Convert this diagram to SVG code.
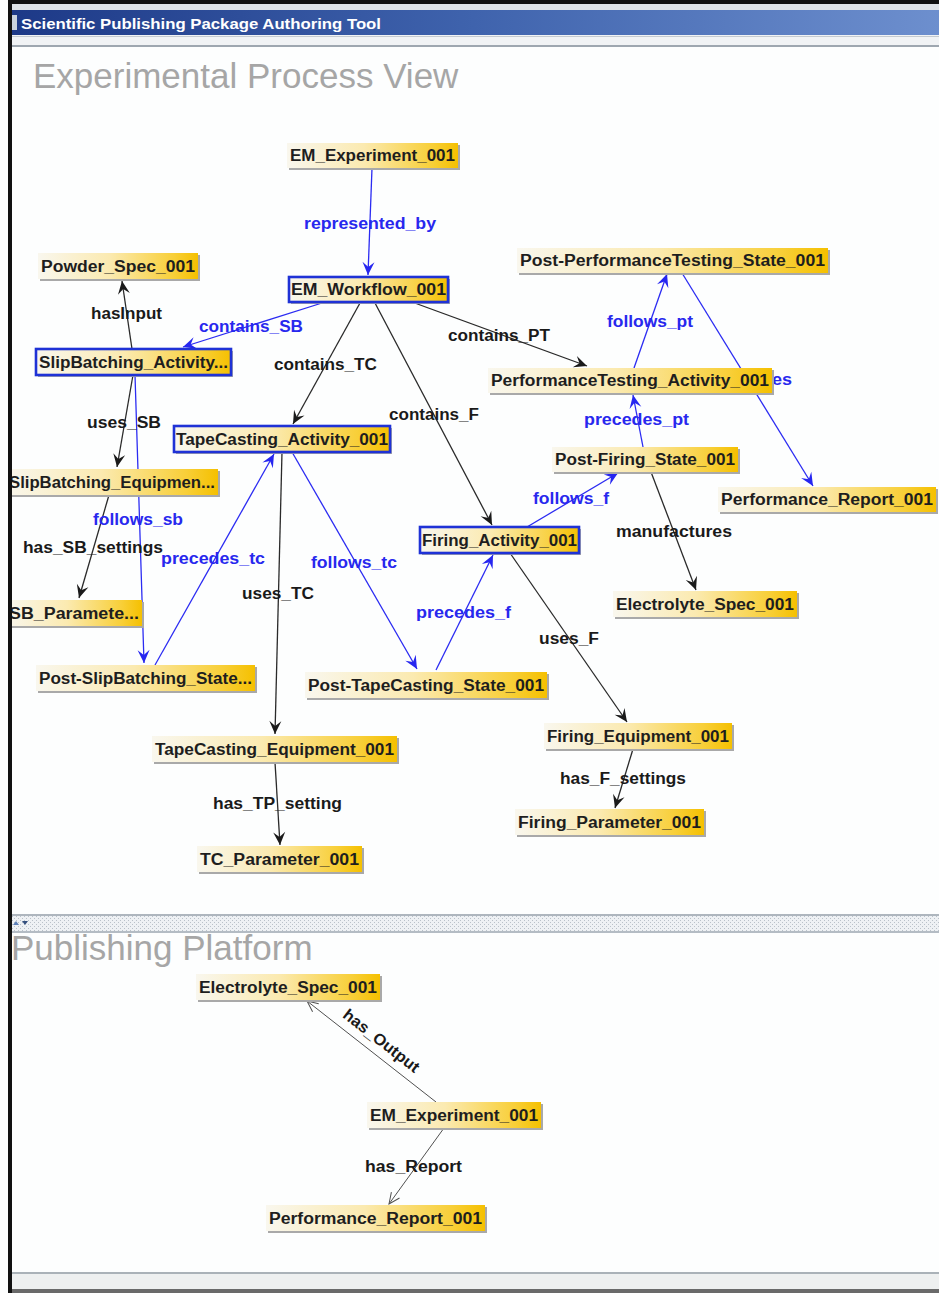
<svg xmlns="http://www.w3.org/2000/svg" width="939" height="1293" viewBox="0 0 939 1293">
<style>
  .nl { font-family: "Liberation Sans", Arial, sans-serif; font-weight: bold; font-size: 16px; fill: #1e1e1e; text-anchor: middle; }
  .el { font-family: "Liberation Sans", Arial, sans-serif; font-weight: bold; font-size: 16px; }
  .ek { fill: #1a1a1a; }
  .eu { fill: #2828ee; }
  .box { fill: url(#gold); }
  .sh { fill: #a9a9a9; }
  .sel { stroke: #1f32d6; stroke-width: 2.6; }
  .lk { stroke: #2a2a2a; stroke-width: 1.3; fill: none; marker-end: url(#ak); }
  .lu { stroke: #2b2bf2; stroke-width: 1.3; fill: none; marker-end: url(#au); }
  .lt { stroke: #505050; stroke-width: 1; fill: none; marker-end: url(#ao); }
  .pane { font-family: "Liberation Sans", Arial, sans-serif; font-size: 35px; fill: #a6a6a6; }
</style>
<defs>
  <linearGradient id="gold" x1="0" y1="0" x2="1" y2="0">
    <stop offset="0" stop-color="#f9f7ee"/>
    <stop offset="0.45" stop-color="#fbeab0"/>
    <stop offset="0.85" stop-color="#f8cf38"/>
    <stop offset="1" stop-color="#f5c000"/>
  </linearGradient>
  <linearGradient id="bar" x1="0" y1="0" x2="1" y2="0">
    <stop offset="0" stop-color="#1d3987"/>
    <stop offset="0.5" stop-color="#3f63ad"/>
    <stop offset="1" stop-color="#6d8fce"/>
  </linearGradient>
  <pattern id="dots" width="4" height="4" patternUnits="userSpaceOnUse">
    <rect width="4" height="4" fill="#eef1f4"/>
    <rect x="0" y="0" width="1" height="1" fill="#b9c1c9"/>
    <rect x="2" y="2" width="1" height="1" fill="#b9c1c9"/>
  </pattern>
  <marker id="ak" viewBox="-14 -7 16 14" refX="0" refY="0" markerWidth="16" markerHeight="14" markerUnits="userSpaceOnUse" orient="auto">
    <path d="M0,0 L-13,-6 L-8,0 L-13,6 Z" fill="#1a1a1a"/>
  </marker>
  <marker id="au" viewBox="-14 -7 16 14" refX="0" refY="0" markerWidth="16" markerHeight="14" markerUnits="userSpaceOnUse" orient="auto">
    <path d="M0,0 L-13,-6 L-8,0 L-13,6 Z" fill="#2626f0"/>
  </marker>
  <marker id="ao" viewBox="-14 -7 16 14" refX="0" refY="0" markerWidth="16" markerHeight="14" markerUnits="userSpaceOnUse" orient="auto">
    <path d="M-11,-5 L0,0 L-11,5" fill="none" stroke="#505050" stroke-width="1"/>
  </marker>
</defs>

<!-- window background -->
<rect x="0" y="0" width="939" height="1293" fill="#fdfefe"/>

<!-- connectors -->
<g id="connectors">
  <line class="lu" x1="372" y1="168" x2="368" y2="275"/>
  <line class="lu" x1="322" y1="303" x2="183" y2="347"/>
  <line class="lk" x1="360" y1="303" x2="293" y2="424"/>
  <line class="lk" x1="375" y1="303" x2="492" y2="525"/>
  <line class="lk" x1="412" y1="302" x2="587" y2="366"/>
  <line class="lk" x1="132" y1="349" x2="122" y2="281"/>
  <line class="lk" x1="133" y1="375" x2="117" y2="467"/>
  <line class="lu" x1="135" y1="375" x2="144" y2="663"/>
  <line class="lk" x1="109" y1="495" x2="79" y2="598"/>
  <line class="lu" x1="155" y1="665" x2="274" y2="454"/>
  <line class="lu" x1="292" y1="452" x2="417" y2="669"/>
  <line class="lk" x1="282" y1="452" x2="275" y2="734"/>
  <line class="lk" x1="275" y1="762" x2="280" y2="845"/>
  <line class="lu" x1="436" y1="670" x2="493" y2="555"/>
  <line class="lu" x1="527" y1="527" x2="618" y2="473"/>
  <line class="lk" x1="510" y1="553" x2="627" y2="722"/>
  <line class="lk" x1="633" y1="749" x2="615" y2="808"/>
  <line class="lu" x1="643" y1="447" x2="633" y2="395"/>
  <line class="lu" x1="634" y1="368" x2="667" y2="274"/>
  <line class="lu" x1="682" y1="273" x2="813" y2="486"/>
  <line class="lk" x1="651" y1="472" x2="696" y2="590"/>
  <line class="lt" x1="436" y1="1102" x2="307" y2="1001"/>
  <line class="lt" x1="444" y1="1128" x2="389" y2="1204"/>

  <!-- edge labels -->
  <text class="el eu" x="304" y="229" textLength="132" lengthAdjust="spacingAndGlyphs">represented_by</text>
  <text class="el ek" x="91" y="319" textLength="71" lengthAdjust="spacingAndGlyphs">hasInput</text>
  <text class="el eu" x="199" y="332" textLength="104" lengthAdjust="spacingAndGlyphs">contains_SB</text>
  <text class="el ek" x="274" y="370" textLength="103" lengthAdjust="spacingAndGlyphs">contains_TC</text>
  <text class="el ek" x="448" y="341" textLength="102" lengthAdjust="spacingAndGlyphs">contains_PT</text>
  <text class="el ek" x="389" y="420" textLength="90" lengthAdjust="spacingAndGlyphs">contains_F</text>
  <text class="el ek" x="87" y="428" textLength="74" lengthAdjust="spacingAndGlyphs">uses_SB</text>
  <text class="el eu" x="607" y="327" textLength="86" lengthAdjust="spacingAndGlyphs">follows_pt</text>
  <text class="el eu" x="772" y="385" textLength="20" lengthAdjust="spacingAndGlyphs">es</text>
  <text class="el eu" x="584" y="425" textLength="105" lengthAdjust="spacingAndGlyphs">precedes_pt</text>
  <text class="el eu" x="533" y="504" textLength="76" lengthAdjust="spacingAndGlyphs">follows_f</text>
  <text class="el ek" x="616" y="537" textLength="116" lengthAdjust="spacingAndGlyphs">manufactures</text>
  <text class="el eu" x="93" y="525" textLength="90" lengthAdjust="spacingAndGlyphs">follows_sb</text>
  <text class="el ek" x="23" y="553" textLength="140" lengthAdjust="spacingAndGlyphs">has_SB_settings</text>
  <text class="el eu" x="161" y="564" textLength="104" lengthAdjust="spacingAndGlyphs">precedes_tc</text>
  <text class="el eu" x="311" y="568" textLength="86" lengthAdjust="spacingAndGlyphs">follows_tc</text>
  <text class="el ek" x="242" y="599" textLength="72" lengthAdjust="spacingAndGlyphs">uses_TC</text>
  <text class="el eu" x="416" y="618" textLength="95" lengthAdjust="spacingAndGlyphs">precedes_f</text>
  <text class="el ek" x="539" y="644" textLength="60" lengthAdjust="spacingAndGlyphs">uses_F</text>
  <text class="el ek" x="560" y="784" textLength="126" lengthAdjust="spacingAndGlyphs">has_F_settings</text>
  <text class="el ek" x="213" y="809" textLength="129" lengthAdjust="spacingAndGlyphs">has_TP_setting</text>
  <text class="el ek" x="365" y="1172" textLength="97" lengthAdjust="spacingAndGlyphs">has_Report</text>
  <text class="el ek" x="0" y="0" text-anchor="middle" textLength="92" lengthAdjust="spacingAndGlyphs" transform="translate(378,1045) rotate(38)">has_Output</text>
</g>

<!-- nodes: upper pane -->
<g id="n-em-experiment"><rect class="sh" x="289" y="145" width="171" height="25"/><rect class="box" x="287" y="143" width="171" height="25"/><text class="nl" x="372.5" y="161" textLength="165" lengthAdjust="spacingAndGlyphs">EM_Experiment_001</text></g>
<g id="n-em-workflow"><rect class="sh" x="291" y="279" width="159" height="25"/><rect class="box sel" x="289" y="277" width="159" height="25"/><text class="nl" x="368.5" y="295" textLength="155" lengthAdjust="spacingAndGlyphs">EM_Workflow_001</text></g>
<g id="n-powder-spec"><rect class="sh" x="40" y="255" width="160" height="26"/><rect class="box" x="38" y="253" width="160" height="26"/><text class="nl" x="118" y="272" textLength="154" lengthAdjust="spacingAndGlyphs">Powder_Spec_001</text></g>
<g id="n-slipbatching-activity"><rect class="sh" x="38" y="351" width="195" height="26"/><rect class="box sel" x="36" y="349" width="195" height="26"/><text class="nl" x="133.5" y="368" textLength="189" lengthAdjust="spacingAndGlyphs">SlipBatching_Activity...</text></g>
<g id="n-tapecasting-activity"><rect class="sh" x="176" y="428" width="216" height="26"/><rect class="box sel" x="174" y="426" width="216" height="26"/><text class="nl" x="282" y="445" textLength="212" lengthAdjust="spacingAndGlyphs">TapeCasting_Activity_001</text></g>
<g id="n-post-pt-state"><rect class="sh" x="519" y="250" width="311" height="25"/><rect class="box" x="517" y="248" width="311" height="25"/><text class="nl" x="672.5" y="266" textLength="305" lengthAdjust="spacingAndGlyphs">Post-PerformanceTesting_State_001</text></g>
<g id="n-pt-activity"><rect class="sh" x="490" y="370" width="284" height="25"/><rect class="box" x="488" y="368" width="284" height="25"/><text class="nl" x="630" y="386" textLength="278" lengthAdjust="spacingAndGlyphs">PerformanceTesting_Activity_001</text></g>
<g id="n-post-firing-state"><rect class="sh" x="554" y="449" width="186" height="25"/><rect class="box" x="552" y="447" width="186" height="25"/><text class="nl" x="645" y="465" textLength="180" lengthAdjust="spacingAndGlyphs">Post-Firing_State_001</text></g>
<g id="n-performance-report"><rect class="sh" x="720" y="489" width="218" height="25"/><rect class="box" x="718" y="487" width="218" height="25"/><text class="nl" x="827" y="505" textLength="212" lengthAdjust="spacingAndGlyphs">Performance_Report_001</text></g>
<g id="n-slipbatching-equipment"><rect class="sh" x="8" y="471" width="212" height="26"/><rect class="box" x="6" y="469" width="212" height="26"/><text class="nl" x="112" y="488" textLength="206" lengthAdjust="spacingAndGlyphs">SlipBatching_Equipmen...</text></g>
<g id="n-sb-parameter"><rect class="sh" x="8" y="602" width="136" height="26"/><rect class="box" x="6" y="600" width="136" height="26"/><text class="nl" x="74" y="619" textLength="130" lengthAdjust="spacingAndGlyphs">SB_Paramete...</text></g>
<g id="n-post-sb-state"><rect class="sh" x="38" y="667" width="219" height="26"/><rect class="box" x="36" y="665" width="219" height="26"/><text class="nl" x="145.5" y="684" textLength="213" lengthAdjust="spacingAndGlyphs">Post-SlipBatching_State...</text></g>
<g id="n-post-tc-state"><rect class="sh" x="307" y="674" width="242" height="26"/><rect class="box" x="305" y="672" width="242" height="26"/><text class="nl" x="426" y="691" textLength="236" lengthAdjust="spacingAndGlyphs">Post-TapeCasting_State_001</text></g>
<g id="n-firing-activity"><rect class="sh" x="422" y="529" width="159" height="26"/><rect class="box sel" x="420" y="527" width="159" height="26"/><text class="nl" x="499.5" y="546" textLength="155" lengthAdjust="spacingAndGlyphs">Firing_Activity_001</text></g>
<g id="n-electrolyte-spec"><rect class="sh" x="615" y="593" width="184" height="26"/><rect class="box" x="613" y="591" width="184" height="26"/><text class="nl" x="705" y="610" textLength="178" lengthAdjust="spacingAndGlyphs">Electrolyte_Spec_001</text></g>
<g id="n-firing-equipment"><rect class="sh" x="546" y="725" width="188" height="26"/><rect class="box" x="544" y="723" width="188" height="26"/><text class="nl" x="638" y="742" textLength="182" lengthAdjust="spacingAndGlyphs">Firing_Equipment_001</text></g>
<g id="n-firing-parameter"><rect class="sh" x="517" y="811" width="189" height="26"/><rect class="box" x="515" y="809" width="189" height="26"/><text class="nl" x="609.5" y="828" textLength="183" lengthAdjust="spacingAndGlyphs">Firing_Parameter_001</text></g>
<g id="n-tc-equipment"><rect class="sh" x="154" y="738" width="245" height="26"/><rect class="box" x="152" y="736" width="245" height="26"/><text class="nl" x="274.5" y="755" textLength="239" lengthAdjust="spacingAndGlyphs">TapeCasting_Equipment_001</text></g>
<g id="n-tc-parameter"><rect class="sh" x="199" y="848" width="165" height="26"/><rect class="box" x="197" y="846" width="165" height="26"/><text class="nl" x="279.5" y="865" textLength="159" lengthAdjust="spacingAndGlyphs">TC_Parameter_001</text></g>

<!-- nodes: lower pane -->
<g id="p-electrolyte-spec"><rect class="sh" x="198" y="976" width="184" height="26"/><rect class="box" x="196" y="974" width="184" height="26"/><text class="nl" x="288" y="993" textLength="178" lengthAdjust="spacingAndGlyphs">Electrolyte_Spec_001</text></g>
<g id="p-em-experiment"><rect class="sh" x="369" y="1104" width="174" height="26"/><rect class="box" x="367" y="1102" width="174" height="26"/><text class="nl" x="454" y="1121" textLength="168" lengthAdjust="spacingAndGlyphs">EM_Experiment_001</text></g>
<g id="p-performance-report"><rect class="sh" x="268" y="1207" width="219" height="26"/><rect class="box" x="266" y="1205" width="219" height="26"/><text class="nl" x="375.5" y="1224" textLength="213" lengthAdjust="spacingAndGlyphs">Performance_Report_001</text></g>

<!-- window chrome -->
<g id="chrome">
  <rect x="0" y="0" width="8" height="1293" fill="#fdfefe"/>
  <rect x="8" y="0" width="931" height="4" fill="#111"/>
  <rect x="8" y="4" width="931" height="8" fill="#dfe3e8"/>
  <rect x="8" y="10" width="931" height="25" fill="url(#bar)"/>
  <rect x="12" y="15" width="5" height="15" fill="#c9d2de"/>
  <text x="21" y="29" font-family="'Liberation Sans', Arial, sans-serif" font-weight="bold" font-size="15" fill="#ffffff" textLength="360" lengthAdjust="spacingAndGlyphs">Scientific Publishing Package Authoring Tool</text>
  <rect x="8" y="35" width="931" height="10" fill="#f1f3f5"/>
  <rect x="8" y="36" width="931" height="1" fill="#c4cad0"/>
  <rect x="8" y="45" width="931" height="2" fill="#9ea7b0"/>
  <text class="pane" x="33" y="88">Experimental Process View</text>

  <rect x="8" y="914" width="931" height="2" fill="#aeb6be"/>
  <rect x="8" y="916" width="931" height="16" fill="url(#dots)"/>
  <rect x="8" y="931" width="931" height="2" fill="#b4bcc4"/>
  <path d="M13,925 L16,921 L19,925 Z" fill="#5c7fb8"/>
  <path d="M22,921 L28,921 L25,925 Z" fill="#34507e"/>
  <text class="pane" x="11" y="960">Publishing Platform</text>

  <rect x="8" y="1272" width="931" height="2" fill="#aab2b8"/>
  <rect x="8" y="1274" width="931" height="16" fill="#eef0f0"/>
  <rect x="8" y="1289" width="931" height="4" fill="#6a6a6a"/>
  <rect x="8" y="0" width="4" height="1293" fill="#111"/>
</g>
</svg>
